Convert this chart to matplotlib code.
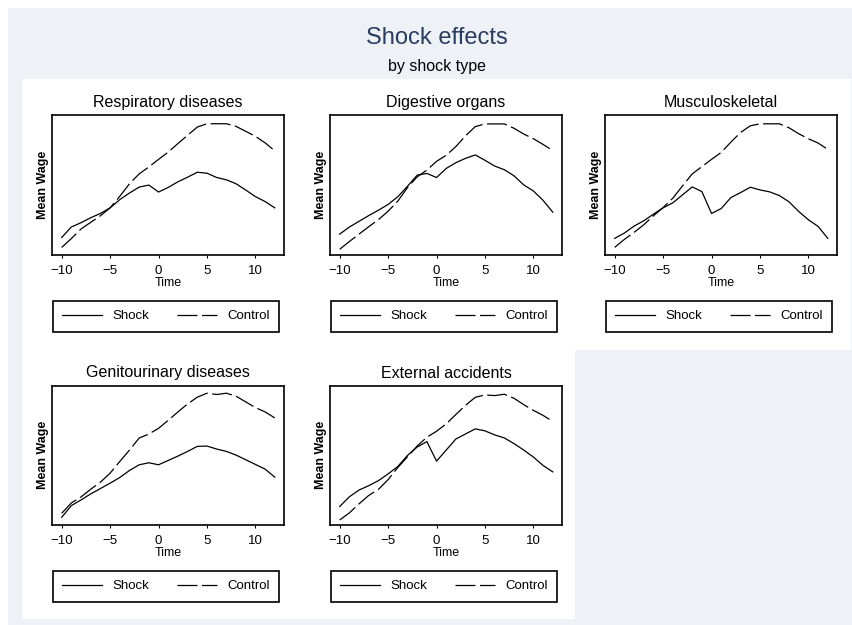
import matplotlib
matplotlib.use('Agg')
import matplotlib.pyplot as plt
from matplotlib.patches import Rectangle
from matplotlib.transforms import offset_copy

plt.rcParams['font.family'] = ['Liberation Sans', 'DejaVu Sans']

# months relative to the shock
time = list(range(-10, 13))
xticks = [-10, -5, 0, 5, 10]

panel_titles = ['Respiratory diseases', 'Digestive organs', 'Musculoskeletal',
                'Genitourinary diseases', 'External accidents']

# mean wage (index; top of each panel's y range below)
resp_shock = [53, 85, 98, 113, 126, 143, 168, 188, 206, 212, 191, 205,
              222, 236, 251, 248, 235, 228, 216, 197, 177, 162, 143]
resp_control = [23, 50, 79, 99, 119, 143, 178, 216, 246, 267, 290, 312,
                338, 363, 388, 398, 398, 398, 390, 375, 360, 340, 316]

dig_shock = [62, 83, 100, 117, 133, 150, 173, 204, 237, 242, 230, 257,
             274, 287, 297, 281, 264, 253, 235, 208, 190, 162, 127]
dig_control = [17, 40, 62, 84, 105, 130, 160, 200, 232, 252, 278, 296,
               322, 354, 381, 389, 389, 389, 376, 359, 345, 328, 310]

musc_shock = [50, 66, 87, 103, 123, 142, 157, 181, 205, 191, 125, 140,
              173, 188, 204, 196, 190, 179, 160, 131, 106, 86, 50]
musc_control = [23, 47, 68, 91, 118, 143, 171, 208, 244, 266, 288, 309,
                340, 369, 389, 395, 395, 395, 383, 365, 350, 337, 318]

gen_shock = [23, 58, 75, 93, 109, 125, 142, 163, 180, 186, 180, 193,
             206, 220, 235, 236, 227, 220, 209, 195, 181, 167, 143]
gen_control = [35, 66, 84, 107, 128, 155, 190, 224, 260, 272, 289, 313,
               338, 362, 382, 394, 390, 394, 385, 368, 351, 338, 320]

ext_shock = [55, 84, 104, 117, 132, 152, 174, 207, 232, 248, 190, 223,
             256, 271, 286, 280, 268, 259, 242, 223, 202, 177, 158]
ext_control = [15, 36, 63, 88, 106, 135, 171, 203, 235, 261, 279, 301,
               329, 356, 380, 387, 385, 389, 377, 358, 341, 326, 308]

y_tops = [423, 414, 420, 417, 415]

shock_series = [resp_shock, dig_shock, musc_shock, gen_shock, ext_shock]
control_series = [resp_control, dig_control, musc_control, gen_control, ext_control]

W, H = 853, 625
bg = '#eef2f7'
fig = plt.figure(figsize=(W / 100, H / 100), dpi=100)
fig.patch.set_facecolor('white')


def frac(x0, y0, x1, y1):
    return [x0 / W, 1 - y1 / H, (x1 - x0) / W, (y1 - y0) / H]


def box(x0, y0, x1, y1, color):
    l, b, w, h = frac(x0, y0, x1, y1)
    fig.add_artist(Rectangle((l, b), w, h, transform=fig.transFigure,
                             facecolor=color, edgecolor='none', zorder=-5))


# graph region and the white cells of the subgraphs
box(8, 8, 853, 625, bg)
box(22, 79, 851, 350, 'white')
box(22, 350, 575, 619, 'white')

fig.text(437 / W, 1 - 38 / H, 'Shock effects', ha='center', va='center',
         fontsize=17, color='#2a3b60')
fig.text(437 / W, 1 - 67 / H, 'by shock type', ha='center', va='center',
         fontsize=11.5, color='black')

col_left = [52, 330, 605]
row_top = [115.5, 385.5]

for i in range(5):
    row, col = divmod(i, 3)
    left = col_left[col]
    top = row_top[row]
    ax = fig.add_axes(frac(left, top, left + 232, top + 139.5))

    ax.plot(time, shock_series[i], color='black', lw=0.9, label='Shock')
    ax.plot(time, control_series[i], color='black', lw=0.9, dashes=(16, 3.6),
            label='Control')

    ax.set_xlim(-11, 12.95)
    ax.set_ylim(0, y_tops[i])
    ax.set_xticks(xticks)
    ax.set_yticks([])
    ax.tick_params(axis='x', direction='out', length=2.5, width=0.8, pad=4.5,
                   labelsize=9.5)
    for s in ax.spines.values():
        s.set_linewidth(1.2)

    ax.text(0.5, 1, panel_titles[i], ha='center', va='center', fontsize=11.5,
            transform=offset_copy(ax.transAxes, fig=fig, y=12.5, units='dots'))
    ax.text(0.5, 0, 'Time', ha='center', va='center', fontsize=9,
            transform=offset_copy(ax.transAxes, fig=fig, y=-28.5, units='dots'))
    ax.text(0, 0.5, 'Mean Wage', ha='center', va='center', fontsize=9,
            rotation=90, fontweight='bold',
            transform=offset_copy(ax.transAxes, fig=fig, x=-9, units='dots'))

    leg = ax.legend(loc='upper left', bbox_to_anchor=(1 / 232, -46 / 139.5, 226 / 232, 0),
                    mode='expand', ncol=2, fontsize=9.5, handlelength=3.0,
                    handletextpad=0.8, borderpad=0.7, borderaxespad=0,
                    fancybox=False, framealpha=1, edgecolor='black')
    leg.get_frame().set_linewidth(1.2)

fig.savefig('out.png', dpi=100, facecolor=fig.get_facecolor())
